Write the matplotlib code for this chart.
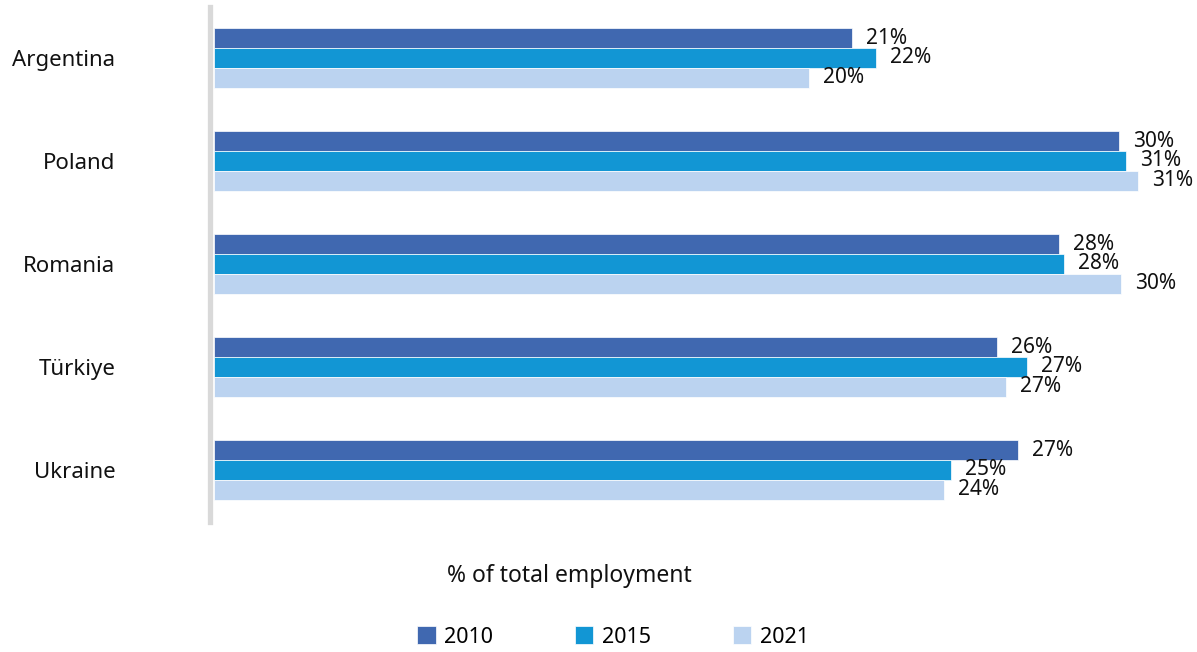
import numpy as np
import matplotlib
matplotlib.use('Agg')
import matplotlib.pyplot as plt

plt.rcParams['font.family'] = ['Noto Sans', 'DejaVu Sans']

# data
countries = ['Argentina', 'Poland', 'Romania', 'Türkiye', 'Ukraine']
years = ['2010', '2015', '2021']
v2010 = [21.37, 30.32, 28.31, 26.23, 26.93]
v2015 = [22.18, 30.55, 28.48, 27.24, 24.69]
v2021 = [19.93, 30.95, 30.39, 26.53, 24.46]
colors = ['#4068b0', '#1296d4', '#bbd3f0']

fig = plt.figure(figsize=(11.97, 6.52), dpi=100)
ax = fig.add_axes([214 / 1197, 1 - 522 / 652, 1 - 214 / 1197, 515 / 652])

for s in ['top', 'right', 'bottom']:
    ax.spines[s].set_visible(False)
ax.spines['left'].set_color('#d9d9d9')
ax.spines['left'].set_linewidth(3.8)
ax.spines['left'].set_position(('outward', 3))

y = np.arange(len(countries))
h = 0.194
for i, (vals, yr) in enumerate(zip([v2010, v2015, v2021], years)):
    pos = y + (i - 1) * h
    ax.barh(pos, vals, height=h, color=colors[i], edgecolor='white',
            linewidth=0.5, label=yr)
    for p, v in zip(pos, vals):
        ax.annotate(f'{round(v):.0f}%', (v, p), xytext=(10, 0),
                    textcoords='offset points', va='center', ha='left',
                    fontsize=15, color='#111111')

ax.set_xlim(0, 983 / 29.85)
ax.set_ylim(4.505, -0.495)
ax.set_yticks(y)
ax.set_yticklabels(countries)
ax.tick_params(axis='y', length=0, pad=68, labelsize=16, labelcolor='#111111')
ax.set_xticks([])

fig.text(569 / 1197, 1 - 576 / 652, '% of total employment', ha='center',
         va='center', fontsize=16.5, color='#111111')

fig.legend(loc='center', bbox_to_anchor=(613 / 1197, 1 - 637 / 652), ncol=3,
           frameon=False, fontsize=15.5, handlelength=0.85, handleheight=0.85,
           handletextpad=0.4, columnspacing=3.8)

fig.savefig('out.png', dpi=100)
